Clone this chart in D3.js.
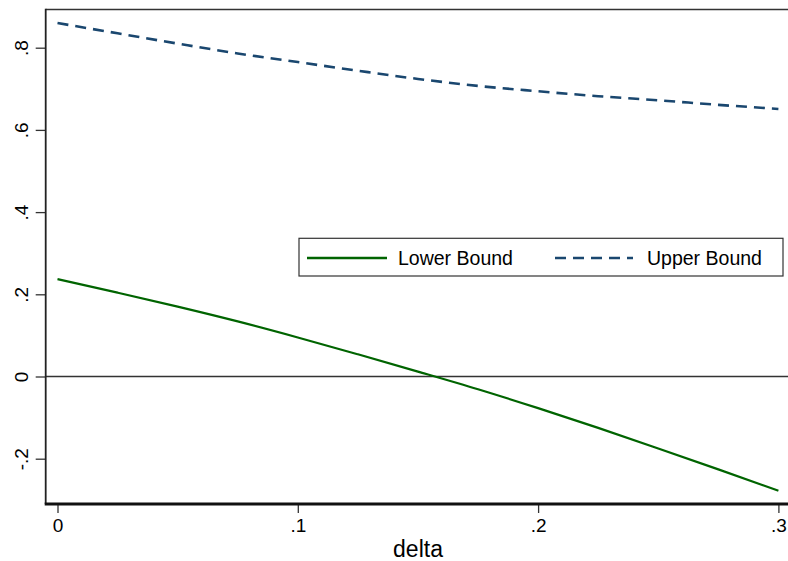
<!DOCTYPE html>
<html>
<head>
<meta charset="utf-8">
<script src="https://cdn.jsdelivr.net/npm/d3@7"></script>
<style>
  html, body { margin: 0; padding: 0; background: #fff; }
  svg { display: block; font-family: "Liberation Sans", Arial, sans-serif; }
</style>
</head>
<body>
<svg id="chart" width="788" height="561"></svg>
<script>
// ---- data ----
const delta = [0, 0.025, 0.05, 0.075, 0.1, 0.125, 0.15, 0.175, 0.2, 0.225, 0.25, 0.275, 0.3];
const lowerBound = [0.237, 0.204, 0.170, 0.134, 0.095, 0.054, 0.012, -0.031, -0.077, -0.125, -0.175, -0.226, -0.278];
const upperBound = [0.860, 0.835, 0.810, 0.786, 0.765, 0.744, 0.724, 0.707, 0.694, 0.682, 0.672, 0.661, 0.651];
const xTicks = [0, 0.1, 0.2, 0.3];
const xTickLabels = ["0", ".1", ".2", ".3"];
const yTicks = [-0.2, 0, 0.2, 0.4, 0.6, 0.8];
const yTickLabels = ["-.2", "0", ".2", ".4", ".6", ".8"];
const seriesNames = ["Lower Bound", "Upper Bound"];
const xTitle = "delta";

// ---- layout ----
const plot = { left: 45.7, top: 9.5, right: 796, bottom: 504 };
const green = "#006400", navy = "#1a476f";

const svg = d3.select("#chart");
const x = d3.scaleLinear().domain([0, 0.3]).range([57.5, 778.4]);
const y = d3.scaleLinear().domain([-0.2, 0.8]).range([458.7, 47.7]);

// plot region frame (top border)
svg.append("line")
  .attr("x1", plot.left).attr("x2", plot.right)
  .attr("y1", plot.top).attr("y2", plot.top)
  .attr("stroke", "#333").attr("stroke-width", 1.6);

// zero reference line
svg.append("line")
  .attr("x1", plot.left).attr("x2", plot.right)
  .attr("y1", y(0)).attr("y2", y(0))
  .attr("stroke", "#333").attr("stroke-width", 1.3);

// lines
const lower = delta.map((d, i) => [d, lowerBound[i]]);
const upper = delta.map((d, i) => [d, upperBound[i]]);
const lineGen = d3.line().x(d => x(d[0])).y(d => y(d[1])).curve(d3.curveMonotoneX);

svg.append("path").datum(lower)
  .attr("d", lineGen).attr("fill", "none")
  .attr("stroke", green).attr("stroke-width", 2.2);
svg.append("path").datum(upper)
  .attr("d", lineGen).attr("fill", "none")
  .attr("stroke", navy).attr("stroke-width", 2.6)
  .attr("stroke-dasharray", "11,7");

// y axis
const yAxis = d3.axisLeft(y).tickValues(yTicks)
  .tickFormat((d, i) => yTickLabels[i]).tickSize(10).tickPadding(0);
const gy = svg.append("g").attr("transform", `translate(${plot.left},0)`).call(yAxis);
gy.select(".domain").remove();
gy.selectAll(".tick line").attr("stroke", "#333").attr("stroke-width", 1.3);
gy.selectAll(".tick text")
  .attr("x", 0).attr("y", 0).attr("dy", null)
  .attr("text-anchor", "middle")
  .attr("transform", `translate(${28 - plot.left},0) rotate(-90)`)
  .attr("font-size", 19).attr("fill", "#000")
  .style("font-family", "'Liberation Sans', Arial, sans-serif");
svg.append("line")
  .attr("x1", plot.left).attr("x2", plot.left)
  .attr("y1", plot.top - 0.8).attr("y2", plot.bottom)
  .attr("stroke", "#222").attr("stroke-width", 1.8);

// x axis
const xAxis = d3.axisBottom(x).tickValues(xTicks)
  .tickFormat((d, i) => xTickLabels[i]).tickSize(9).tickPadding(6);
const gx = svg.append("g").attr("transform", `translate(0,${plot.bottom})`).call(xAxis);
gx.select(".domain").remove();
gx.selectAll(".tick line").attr("stroke", "#333").attr("stroke-width", 1.3);
gx.selectAll(".tick text")
  .attr("font-size", 19).attr("fill", "#000")
  .style("font-family", "'Liberation Sans', Arial, sans-serif");
svg.append("line")
  .attr("x1", plot.left - 1).attr("x2", plot.right)
  .attr("y1", plot.bottom).attr("y2", plot.bottom)
  .attr("stroke", "#111").attr("stroke-width", 3);

// x title
svg.append("text")
  .attr("x", 418).attr("y", 557)
  .attr("text-anchor", "middle")
  .attr("font-size", 23).attr("fill", "#000")
  .text(xTitle);

// legend
const lg = svg.append("g");
lg.append("rect")
  .attr("x", 299).attr("y", 238.3).attr("width", 484).attr("height", 37.7)
  .attr("fill", "#fff").attr("stroke", "#333").attr("stroke-width", 1.2);
lg.append("line").attr("x1", 307).attr("x2", 387).attr("y1", 258).attr("y2", 258)
  .attr("stroke", green).attr("stroke-width", 2.4);
lg.append("text").attr("x", 398).attr("y", 265).attr("font-size", 19.5)
  .attr("fill", "#000").text(seriesNames[0]);
lg.append("line").attr("x1", 555).attr("x2", 633).attr("y1", 258).attr("y2", 258)
  .attr("stroke", navy).attr("stroke-width", 2.6).attr("stroke-dasharray", "11,7");
lg.append("text").attr("x", 647).attr("y", 265).attr("font-size", 19.5)
  .attr("fill", "#000").text(seriesNames[1]);
</script>
</body>
</html>
